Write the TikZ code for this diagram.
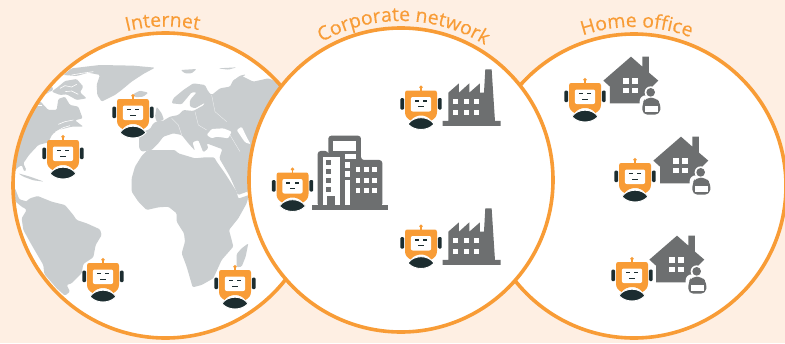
\documentclass[tikz,border=0pt]{standalone}
\usepackage{fontspec}
\setmainfont{Open Sans}
\newfontfamily\ringfont[FakeBold=0.35]{Open Sans}
\usetikzlibrary{decorations.text}
\definecolor{bgpeach}{HTML}{FEEFE3}
\definecolor{ringorange}{HTML}{F89C36}
\definecolor{mapgray}{HTML}{C9CDCF}
\definecolor{icongray}{HTML}{6D6F70}
\definecolor{robotdark}{HTML}{1C2D30}
\newcommand{\labelfont}{\ringfont\fontsize{19.4}{19.4}\selectfont\color{ringorange}}
\tikzset{
  ring/.style={draw=ringorange,line width=3.6pt,fill=white},
  land/.style={fill=mapgray,draw=none,rounded corners=1.2pt},
  sea/.style={fill=white,draw=none,rounded corners=1.2pt},
  fringe/.style={draw=white,line width=0.6pt,line join=round},
  border/.style={draw=white,line width=0.35pt,opacity=0.7,line join=round},
  icon/.style={fill=icongray,draw=none},
  hole/.style={fill=white,draw=none},
  curvedlabel/.style={decorate,decoration={text along path,text align=center,text={|\labelfont|#1}}},
  zoomgrid/.style={x=0.3333pt,y=-0.3333pt},
  robot/.pic={
    \fill[robotdark,rounded corners=1.2pt] (-20.7,-8) rectangle (-16.9,3.6);
    \fill[robotdark,rounded corners=1.2pt] (16.9,-8) rectangle (20.7,3.6);
    \fill[ringorange] (0,-18.8) circle (1.9);
    \fill[ringorange] (-0.7,-18) rectangle (0.7,-15);
    \fill[ringorange] (-16,-13) .. controls (-16,-14.8) and (-15,-15.5) .. (-13.5,-15.5) -- (13.5,-15.5) .. controls (15,-15.5) and (16,-14.8) .. (16,-13) -- (16,6) .. controls (16,10) and (14,12.5) .. (10.5,14.5) .. controls (5,7.8) and (-5,7.8) .. (-10.5,14.5) .. controls (-14,12.5) and (-16,10) .. (-16,6) -- cycle;
    \fill[white,rounded corners=2pt] (-10.2,-9) rectangle (10.2,5.5);
    \fill[robotdark] (-6.2,-5.9) rectangle (-2.2,-4.5);
    \fill[robotdark] (2.2,-5.9) rectangle (6.2,-4.5);
    \fill[robotdark] (-2.6,0) rectangle (2.6,1.3);
    \filldraw[fill=robotdark,draw=white,line width=0.9pt] (-13,18) .. controls (-7,9.6) and (7,9.6) .. (13,18) .. controls (7,25.3) and (-7,25.3) .. (-13,18) -- cycle;
  },
  factoryicon/.pic={
    \begin{scope}[zoomgrid]
    \path[icon] (548,213) -- (565,213) -- (565,128) -- (597,100) -- (597,128) -- (628,100) -- (628,128) -- (660,100) -- (660,128) -- (672,128) -- (676,58) -- (695,58) -- (705,213) -- (722,213) -- (722,228) -- (548,228) -- cycle;
    \foreach \wx in {580,611,642}{\foreach \wy in {148,180}{
      \path[hole] (\wx,\wy) rectangle ++(15,15);}}
    \end{scope}
  },
  houseicon/.pic={
    \begin{scope}[zoomgrid]
    \path[icon] (228,50) -- (262,80) -- (262,50) -- (282,50) -- (282,98) -- (310,122) -- (292,140) -- (292,190) -- (165,190) -- (165,140) -- (145,122) -- cycle;
    \foreach \wx in {205,231}{\foreach \wy in {115,143}{
      \path[hole] (\wx,\wy) rectangle ++(18,17);}}
    \path[hole] (287,157) circle (18);
    \path[hole,rounded corners=6pt] (254,166) rectangle (325,230);
    \path[icon] (287,157) circle (13);
    \path[icon,rounded corners=5pt] (272,173) -- (302,173) -- (317,190) -- (315,224) -- (262,224) -- (262,190) -- cycle;
    \path[hole] (270,197) rectangle (308,217);
    \end{scope}
  }
}
\begin{document}
\begin{tikzpicture}[x=1pt,y=-1pt]
\useasboundingbox (0,0) rectangle (785,343);
\fill[bgpeach] (0,0) rectangle (785,343);

% Internet
\fill[white] (165.5,185.5) circle (152.5);
\begin{scope}
\clip (165.5,185.5) circle (152.5);
% Greenland and Iceland
\begin{scope}[zoomgrid]
\path[land] (190,225) -- (215,205) -- (300,195) -- (400,197) -- (465,203) -- (430,222) -- (395,245) -- (365,270) -- (345,285) -- (305,305) -- (292,285) -- (290,255) -- (300,225) -- (265,218) -- (230,228) -- cycle;
\path[land] (400,282) -- (420,272) -- (445,278) -- (430,290) -- (405,292) -- cycle;
\end{scope}
% North America
\begin{scope}[shift={(15,55)},zoomgrid]
\path[land] (130,95) -- (150,78) -- (185,72) -- (205,95) -- (195,112) -- (215,130) -- (185,135) -- (155,118) -- (135,120) -- (110,110) -- cycle;
\path[land] (85,100) -- (110,92) -- (115,105) -- (90,118) -- cycle;
\path[land] (-30,350) -- (-20,250) -- (30,170) -- (75,138) -- (100,165) -- (125,165) -- (130,132) -- (150,125) -- (165,150) -- (190,155) -- (203,190) -- (180,196) -- (205,215) -- (170,215) -- (130,225) -- (112,238) -- (100,262) -- (70,270) -- (42,300) -- (25,325) -- (34,345) -- (28,350) -- (20,330) -- (5,340) -- (-5,360) -- cycle;
\draw[fringe] (135,100) -- (150,92) -- (170,96) -- (185,88);
\draw[fringe] (150,110) -- (170,108) -- (190,118);
\draw[fringe] (95,110) -- (112,112) -- (128,128);
\draw[fringe] (60,150) -- (80,150);
\draw[fringe] (120,232) -- (145,218) -- (165,212);
\draw[fringe] (130,208) -- (150,200) -- (175,195);
\draw[fringe] (170,60) -- (200,55) -- (235,50);
\end{scope}
% Mexico and Caribbean
\begin{scope}[zoomgrid]
\path[land] (30,555) -- (45,565) -- (58,598) -- (82,605) -- (72,625) -- (55,612) -- (30,590) -- cycle;
\path[land] (55,520) -- (90,530) -- (132,545) -- (100,541) -- (70,530) -- cycle;
\end{scope}
% South America
\begin{scope}[shift={(15,170)},zoomgrid]
\path[land] (0,85) -- (30,97) -- (45,85) -- (68,78) -- (110,95) -- (150,105) -- (175,135) -- (185,150) -- (215,160) -- (255,178) -- (260,195) -- (242,225) -- (235,262) -- (205,282) -- (200,310) -- (170,340) -- (155,345) -- (165,365) -- (150,377) -- (125,355) -- (88,312) -- (85,285) -- (50,225) -- (25,180) -- (20,145) -- (35,120) -- (10,100) -- cycle;
\end{scope}
% Africa and Madagascar
\begin{scope}[shift={(125,150)},zoomgrid]
\path[land] (68,0) -- (50,18) -- (30,50) -- (20,85) -- (20,125) -- (40,155) -- (65,180) -- (100,172) -- (130,170) -- (155,190) -- (155,215) -- (177,250) -- (180,275) -- (170,310) -- (185,350) -- (203,412) -- (230,405) -- (265,385) -- (290,330) -- (325,290) -- (320,270) -- (312,240) -- (340,205) -- (365,160) -- (372,135) -- (340,146) -- (335,125) -- (300,70) -- (275,35) -- (268,22) -- (240,22) -- (210,25) -- (160,10) -- (150,0) -- cycle;
\path[land] (370,280) -- (362,320) -- (350,350) -- (335,352) -- (335,312) -- (350,295) -- cycle;
\end{scope}
% Eurasia
\begin{scope}[shift={(140,55)},zoomgrid]
\path[land] (440,85) -- (415,82) -- (385,70) -- (340,80) -- (310,65) -- (280,75) -- (270,95) -- (240,100) -- (215,120) -- (205,110) -- (195,90) -- (160,85) -- (130,105) -- (100,130) -- (95,145) -- (125,148) -- (140,130) -- (155,112) -- (170,112) -- (150,135) -- (150,155) -- (165,160) -- (195,143) -- (192,150) -- (160,168) -- (130,165) -- (115,180) -- (90,185) -- (65,200) -- (60,195) -- (40,205) -- (30,222) -- (5,232) -- (-3,250) -- (-3,278) -- (5,290) -- (35,285) -- (55,265) -- (70,245) -- (100,235) -- (125,240) -- (145,265) -- (165,287) -- (157,262) -- (175,255) -- (190,292) -- (205,280) -- (200,265) -- (240,280) -- (247,282) -- (238,310) -- (270,365) -- (294,420) -- (336,405) -- (450,300) -- cycle;
\path[land] (50,155) -- (65,175) -- (72,195) -- (50,200) -- (45,185) -- cycle;
\path[land] (122,45) -- (170,42) -- (155,55) -- (135,55) -- cycle;
\path[land] (235,40) -- (290,37) -- (265,44) -- cycle;
\path[land] (278,78) -- (300,62) -- (318,58) -- (300,72) -- cycle;
\path[sea] (200,240) -- (215,222) -- (250,220) -- (275,230) -- (265,250) -- (230,245) -- (215,250) -- cycle;
\path[sea] (290,225) -- (305,215) -- (322,250) -- (332,268) -- (315,262) -- cycle;
\draw[border] (95,190) -- (115,210) -- (125,240);
\draw[border] (165,170) -- (175,210) -- (200,225);
\draw[border] (215,120) -- (225,170) -- (260,200);
\draw[border] (270,240) -- (300,290);
\end{scope}
\end{scope}
\draw[ring,fill=none] (165.5,185.5) circle (152.5);

% Home office and corporate rings
\draw[ring] (634,186) circle (152);
\draw[ring] (401,180) circle (152);

% Curved labels
\path[shift={(165.5,185.5)},x=1pt,y=1pt,curvedlabel=Internet] (120:159) arc[start angle=120,end angle=62,radius=159];
\path[shift={(401,180)},x=1pt,y=1pt,curvedlabel=Corporate network] (129:159) arc[start angle=129,end angle=49,radius=159];
\path[shift={(634,186)},x=1pt,y=1pt,curvedlabel=Home office] (129:159) arc[start angle=129,end angle=49,radius=159];

% Building
\begin{scope}[shift={(260,50)},zoomgrid]
\path[icon,rounded corners=3pt] (205,320) -- (205,257) -- (303,257) -- (303,330) -- (367,330) -- (367,470) -- (173,470) -- (173,303) -- (205,303) -- cycle;
\path[icon] (157,466) rectangle (384,480);
\path[hole] (220,273) rectangle (288,303);
\path[hole] (188,320) rectangle (240,466);
\path[icon] (198,330) rectangle (213,345);
\path[icon] (198,357) rectangle (213,372);
\path[icon] (198,384) rectangle (213,399);
\path[icon] (198,411) rectangle (213,426);
\path[icon] (200,438) rectangle (225,466);
\path[hole] (254,311) rectangle (288,328);
\path[hole] (254,337) rectangle (271,355);
\path[hole] (254,364) rectangle (271,382);
\path[hole] (254,391) rectangle (271,466);
\foreach \wx in {287,312,337}{\foreach \wy in {352,384,415}{
  \path[hole] (\wx,\wy) rectangle ++(14,14);}}
\end{scope}

% Factories
\pic at (260,50) {factoryicon};
\pic at (260,189) {factoryicon};

% Houses
\pic at (555,40) {houseicon};
\pic at (605,120) {houseicon};
\pic at (601,219) {houseicon};

% Robots
\pic at (133,114.5) {robot};
\pic at (63,155.5) {robot};
\pic at (103,278.5) {robot};
\pic at (235,285.5) {robot};
\pic at (292.5,188) {robot};
\pic at (421,106) {robot};
\pic at (421,245) {robot};
\pic at (585,98.5) {robot};
\pic at (635,178.5) {robot};
\pic at (632,277.5) {robot};
\end{tikzpicture}
\end{document}
